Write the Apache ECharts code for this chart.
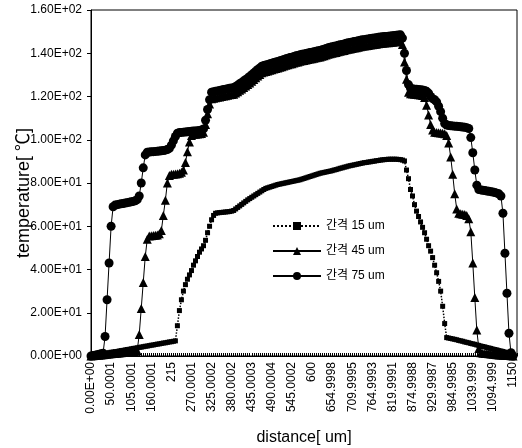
<!DOCTYPE html>
<html><head><meta charset="utf-8">
<script src="https://cdn.jsdelivr.net/npm/echarts@6/dist/echarts.min.js"></script>
<style>html,body{margin:0;padding:0;background:#fff}#c{width:522px;height:448px}</style>
</head><body><div id="c"></div>
<script>
const xTickLabels = ['0.00E+00','50.0001','105.0001','160.0001','215','270.0001','325.0002','380.0002','435.0003','490.0004','545.0002','600','654.9998','709.9995','764.9993','819.9991','874.9988','929.9987','984.9985','1039.999','1094.999','1150'];
const yTickLabels = ['0.00E+00','2.00E+01','4.00E+01','6.00E+01','8.00E+01','1.00E+02','1.20E+02','1.40E+02','1.60E+02'];
const seriesNames = ['간격 15 um','간격 45 um','간격 75 um'];

const temp15 = [
0,0.2,0.3,0.5,0.7,0.8,1.0,1.2,1.3,1.5,
1.7,1.8,2.0,2.1,2.3,2.5,2.6,2.8,3.0,3.1,
3.3,3.5,3.6,3.8,4.0,4.1,4.3,4.5,4.6,4.8,
5.0,5.1,5.3,5.5,5.6,5.8,6.0,6.1,6.3,6.5,
6.6,6.8,7.0,14,21,26,30,33,35.5,37.5,
39.5,42,44,46,48,49.5,51,53.5,57,60,
63,65,66,66.2,66.3,66.4,66.5,66.6,66.7,66.8,
67,67.3,68,68.7,69.4,70.1,70.8,71.5,72.2,72.8,
73.4,74,74.6,75.2,75.8,76.4,77,77.5,77.8,78.1,
78.4,78.7,79,79.3,79.5,79.7,79.9,80.1,80.3,80.5,
80.7,80.9,81.1,81.3,81.5,81.8,82.1,82.4,82.7,83,
83.3,83.6,83.9,84.2,84.5,84.7,84.9,85.1,85.3,85.5,
85.7,86,86.2,86.5,86.8,87,87.3,87.5,87.8,88,
88.2,88.4,88.6,88.8,89,89.2,89.4,89.5,89.7,89.8,
90,90.1,90.3,90.4,90.6,90.7,90.8,90.9,91,91,
91,91,91,90.9,90.8,90.6,90.2,86,82,77,
74,70,67,64.5,62,59.5,57,54,51,48.5,
45.5,42,38.5,34.5,30,23,15,8.5,8.3,8.1,
7.9,7.7,7.5,7.2,7.0,6.8,6.5,6.3,6.1,5.8,
5.6,5.4,5.1,4.9,4.6,4.4,4.2,3.9,3.7,3.5,
3.2,3.0,2.8,2.5,2.3,2.1,1.8,1.6,1.4,1.1,0.9
];
const temp45 = [
0,0.1,0.2,0.3,0.4,0.5,0.6,0.7,0.8,0.9,
1.0,1.1,1.2,1.3,1.4,1.5,1.6,1.7,1.8,1.9,
2.0,2.1,2.2,2.4,10,22,34,46,54,55.5,
55.6,55.7,55.8,56,56.5,58,65,72,80,83.5,
84,84.1,84.2,84.3,84.5,85,86,89.5,94.5,99,
102,102.5,102.6,102.7,102.8,102.9,103.5,107,112,116.5,
119,119.2,119.4,119.6,119.8,120,120.2,120.4,120.6,120.8,
120.9,121,121.6,122.2,122.9,123.5,124.2,124.9,125.5,126.3,
127.1,127.9,128.7,129.5,130.2,131,131.3,131.6,131.8,132.1,
132.4,132.7,132.9,133.2,133.5,133.8,134.1,134.4,134.7,135,
135.2,135.5,135.8,136,136.3,136.5,136.7,136.9,137.1,137.3,
137.5,137.7,137.9,138.1,138.3,138.6,138.9,139.2,139.5,139.8,
140,140.2,140.4,140.7,140.9,141.1,141.3,141.6,141.8,142,
142.2,142.4,142.6,142.8,143,143.2,143.3,143.5,143.6,143.8,
143.9,144.1,144.2,144.4,144.5,144.6,144.7,144.8,144.9,145,
145.1,145.2,145.3,145.4,145.5,144,136,128,122,121.3,
121.1,121,120.9,120.8,120.7,120.5,119.5,116,111.5,107,
104.5,103.5,103.3,103.2,103.1,103,102.8,102,98.5,92,
84,75,68,66,65.8,65.6,65.4,65,63.5,57.5,
43,27,12,3.5,1.5,1.3,1.2,1.1,1.0,0.9,
0.8,0.7,0.6,0.5,0.5,0.4,0.3,0.2,0.2,0.1,0
];
const temp75 = [
0,0.2,0.4,0.6,0.8,1.0,1.3,9,26,43,
60,69,69.8,70,70.2,70.4,70.5,70.7,70.9,71.1,
71.3,71.5,71.8,72.3,74,80,87,93,94.2,94.3,
94.4,94.5,94.6,94.7,94.8,94.9,95.0,95.2,95.5,96.0,
97.5,99.5,101.5,103,103.3,103.4,103.5,103.6,103.7,103.8,
103.9,104,104.1,104.2,104.3,104.5,105,109,114,118.5,
122,122.2,122.4,122.6,122.8,123,123.2,123.4,123.6,123.8,
123.9,124,124.6,125.2,125.9,126.5,127.2,127.9,128.5,129.3,
130.1,130.9,131.7,132.5,133.2,134,134.3,134.6,134.8,135.1,
135.4,135.7,135.9,136.2,136.5,136.8,137.1,137.4,137.7,138,
138.2,138.5,138.8,139.0,139.3,139.5,139.7,139.9,140.1,140.3,
140.5,140.7,140.9,141.1,141.3,141.6,141.9,142.2,142.5,142.8,
143,143.2,143.4,143.7,143.9,144.1,144.3,144.6,144.8,145,
145.2,145.4,145.6,145.8,146,146.2,146.3,146.5,146.6,146.8,
146.9,147.1,147.2,147.4,147.5,147.6,147.7,147.8,147.9,148,
148.1,148.2,148.3,148.4,148.5,147,140,132,125.5,123.8,
123.6,123.4,123.3,123.2,123.1,123,122.8,122.4,121.5,120,
119,118.5,117.5,115.5,113,110,107.5,106.8,106.6,106.5,
106.4,106.3,106.2,106.1,106,105.9,105.8,105.6,105.2,101,
94,86,79,77,76.8,76.6,76.5,76.3,76.2,76,
75.8,75.6,75.3,75,74,66,47.5,29,10.5,1.5,0
];

// category slots: one per sample, two empty trailing slots to reach plot edge
const nCats = temp75.length + 2;
const xCats = [];
for (let i = 0; i < nCats; i++) xCats.push(String(i));

const font = "'Liberation Sans', 'Noto Sans CJK KR', Arial, sans-serif";
const chart = echarts.init(document.getElementById('c'), null, {renderer: 'canvas'});
chart.setOption({
  animation: false,
  backgroundColor: '#fff',
  grid: {left: 91, right: 5, top: 10, bottom: 92, outerBoundsMode: 'none', containLabel: false,
         show: true, borderColor: '#000', borderWidth: 1, backgroundColor: 'transparent'},
  legend: {
    orient: 'vertical', left: 267, top: 215,
    itemWidth: 48, itemHeight: 10, itemGap: 13,
    textStyle: {fontFamily: font, fontSize: 12, color: '#000'},
    data: seriesNames
  },
  xAxis: {
    type: 'category', data: xCats, boundaryGap: false,
    name: 'distance[ um]', nameLocation: 'middle', nameGap: 74, nameMoveOverlap: false,
    nameTextStyle: {fontFamily: font, fontSize: 16, color: '#000'},
    axisLine: {lineStyle: {color: '#000', width: 1}},
    axisTick: {show: true, interval: 0, inside: true, length: 3, lineStyle: {color: '#000'}},
    axisLabel: {interval: 9, rotate: 90, margin: 6, fontFamily: font, fontSize: 12, color: '#000',
      formatter: (v, idx) => xTickLabels[idx / 10] || ''},
    splitLine: {show: false}
  },
  yAxis: {
    type: 'value', min: 0, max: 160, interval: 20,
    name: 'temperature[ ℃]', nameLocation: 'middle', nameGap: 58, nameMoveOverlap: false,
    nameTextStyle: {fontFamily: font, fontSize: 18, color: '#000', padding: [0, 20, 0, 0]},
    axisLine: {show: true, lineStyle: {color: '#000', width: 1}},
    axisTick: {show: true, length: 4, lineStyle: {color: '#000'}},
    axisLabel: {margin: 9, fontFamily: font, fontSize: 12, color: '#000',
      formatter: v => yTickLabels[Math.round(v / 20)]},
    splitLine: {show: false}
  },
  series: [
    {name: seriesNames[0], type: 'line', data: temp15, symbol: 'rect', symbolSize: 5, showAllSymbol: true,
     itemStyle: {color: '#000'}, lineStyle: {color: '#000', width: 1.5, type: 'dotted'}, z: 3},
    {name: seriesNames[1], type: 'line', data: temp45, symbol: 'triangle', symbolSize: 9, showAllSymbol: true,
     itemStyle: {color: '#000'}, lineStyle: {color: '#000', width: 1}, z: 4},
    {name: seriesNames[2], type: 'line', data: temp75, symbol: 'circle', symbolSize: 9, showAllSymbol: true,
     itemStyle: {color: '#000'}, lineStyle: {color: '#000', width: 1}, z: 5}
  ]
});
</script></body></html>
